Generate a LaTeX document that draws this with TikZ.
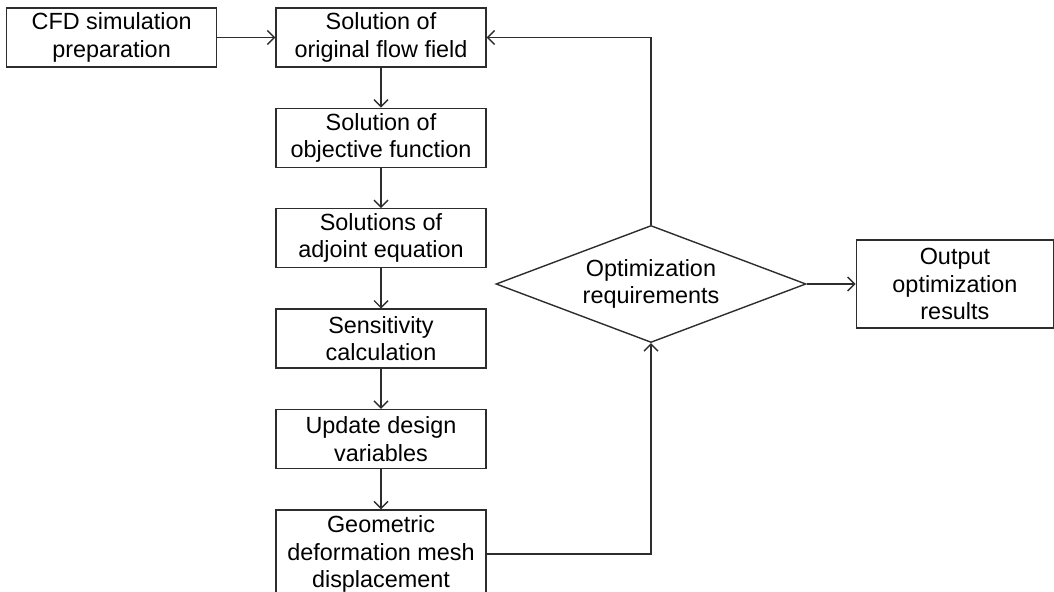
\documentclass[tikz,border=0pt]{standalone}
\usepackage{fontspec}
\setmainfont{Liberation Sans}
\usepackage{tikz}
\usetikzlibrary{shapes.geometric, arrows.meta, positioning}
\definecolor{lineGray}{RGB}{45, 45, 45}
\tikzset{
  procnode/.style={
    rectangle,
    draw=lineGray, line width=0.7pt,
    minimum width=105pt, minimum height=29.5pt,
    inner sep=1pt, align=center,
    font=\fontsize{11.7}{13.6}\selectfont
  },
  decnode/.style={
    diamond, aspect=2.65,
    draw=lineGray, line width=0.7pt,
    minimum width=155pt, minimum height=58.5pt,
    inner sep=0pt, align=center,
    font=\fontsize{11.7}{13.6}\selectfont
  },
  procarrow/.style={
    -{Straight Barb[length=3.5pt,width=7pt]},
    line width=0.7pt, color=lineGray
  }
}

\begin{document}
\begin{tikzpicture}[x=0.5pt, y=-0.5pt, node distance=20pt]
  \useasboundingbox (0,0) rectangle (1054,592);

  \node[procnode] (flow) at (381,37.5) {Solution of\\original flow field};
  \node[procnode, left=29pt of flow] (cfd) {CFD simulation\\preparation};
  \node[procnode, below=of flow] (obj) {Solution of\\objective function};
  \node[procnode, below=of obj]  (adj) {Solutions of\\adjoint equation};
  \node[procnode, below=of adj]  (sens) {Sensitivity\\calculation};
  \node[procnode, below=of sens] (upd) {Update design\\variables};
  \node[procnode, below=of upd, minimum height=44pt] (geo) {Geometric\\deformation mesh\\displacement};

  \node[decnode] (opt) at (651,284) {Optimization\\requirements};
  \node[procnode, right=24.5pt of opt, minimum width=98.5pt, minimum height=44pt] (out) {Output\\optimization\\results};

  \draw[procarrow] (cfd)  -- (flow);
  \draw[procarrow] (flow) -- (obj);
  \draw[procarrow] (obj)  -- (adj);
  \draw[procarrow] (adj)  -- (sens);
  \draw[procarrow] (sens) -- (upd);
  \draw[procarrow] (upd)  -- (geo);
  \draw[procarrow] (geo.east) -| (opt.south);
  \draw[procarrow] (opt.north) |- (flow.east);
  \draw[procarrow] (opt)  -- (out);
\end{tikzpicture}
\end{document}
